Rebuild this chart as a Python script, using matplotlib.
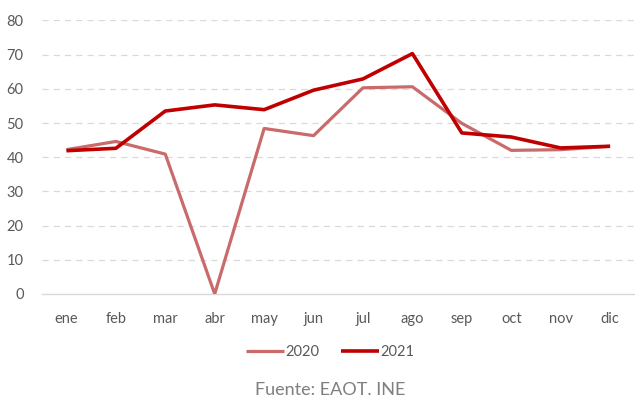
import matplotlib
matplotlib.use("Agg")
import matplotlib.pyplot as plt

# ---------------- data ----------------
months = ["ene", "feb", "mar", "abr", "may", "jun", "jul", "ago", "sep", "oct", "nov", "dic"]
vals_2020 = [42.2, 44.6, 40.9, 0.0, 48.4, 46.3, 60.3, 60.6, 49.9, 42.0, 42.2, 43.2]
vals_2021 = [41.9, 42.6, 53.5, 55.3, 53.9, 59.6, 62.9, 70.3, 47.1, 45.9, 42.7, 43.2]
yticks = [0, 10, 20, 30, 40, 50, 60, 70, 80]

C2020 = "#C96B6B"
C2021 = "#C00000"
TXT = "#595959"
GRID = "#D9D9D9"

plt.rcParams['font.family'] = ['Lato', 'DejaVu Sans']

fig = plt.figure(figsize=(6.35, 4.01), dpi=100)
ax = fig.add_axes([0.0657, 0.267, 0.934, 0.682])

x = list(range(len(months)))
ax.plot(x, vals_2020, color=C2020, lw=2.3, label="2020", solid_capstyle="butt", zorder=3)
ax.plot(x, vals_2021, color=C2021, lw=2.6, label="2021", solid_capstyle="butt", zorder=4)

ax.set_xlim(-0.5, len(months) - 0.5)
ax.set_ylim(0, 80)
ax.set_yticks(yticks)
ax.set_xticks(x)
ax.set_xticklabels(months)

for t in yticks[1:]:
    ax.axhline(t, color=GRID, lw=0.9, ls=(0, (5, 4)), zorder=1)

for s in ["top", "right", "left"]:
    ax.spines[s].set_visible(False)
ax.spines["bottom"].set_color(GRID)
ax.spines["bottom"].set_linewidth(1.0)

ax.tick_params(axis="both", length=0, labelsize=10.5, colors=TXT)
ax.tick_params(axis="y", pad=13)
ax.tick_params(axis="x", pad=13)

leg = fig.legend(loc="center", bbox_to_anchor=(0.52, 0.122), ncol=2, frameon=False,
                 fontsize=10.5, handlelength=2.6, handletextpad=0.1, columnspacing=1.5)
for txt in leg.get_texts():
    txt.set_color(TXT)

fig.text(0.52, 0.027, "Fuente: EAOT. INE", ha="center", va="center", fontsize=13, color="#7F7F7F")

fig.savefig("out.png", dpi=100)
